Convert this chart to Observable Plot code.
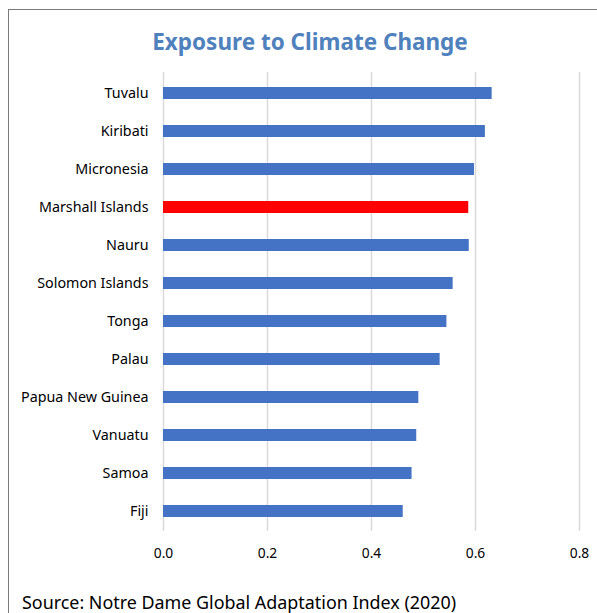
<!DOCTYPE html>
<html>
<head>
<meta charset="utf-8">
<script src="https://cdn.jsdelivr.net/npm/d3@7"></script>
<script src="https://cdn.jsdelivr.net/npm/@observablehq/plot@0.6"></script>
<style>
  html, body { margin: 0; padding: 0; background: #fff; overflow: hidden; }
  body { width: 597px; height: 613px; position: relative; font-family: "Noto Sans", "Open Sans", sans-serif; }
  #frame { position: absolute; left: 8px; top: 9px; width: 640px; height: 660px; border: 1px solid #7a7a7a; box-sizing: border-box; }
  #title { position: absolute; left: 0; width: 620px; top: 26px; text-align: center; font-size: 22.5px; font-weight: bold; color: #4F81BD; }
  #chart { position: absolute; left: 0; top: 60px; }
  #source { position: absolute; left: 22px; top: 590px; font-size: 17.9px; color: #000; white-space: nowrap; }
</style>
</head>
<body>
<div id="frame"></div>
<div id="title">Exposure to Climate Change</div>
<div id="chart"></div>
<div id="source">Source: Notre Dame Global Adaptation Index (2020)</div>
<script>
const countries = ["Tuvalu", "Kiribati", "Micronesia", "Marshall Islands", "Nauru", "Solomon Islands", "Tonga", "Palau", "Papua New Guinea", "Vanuatu", "Samoa", "Fiji"];
const values = [0.632, 0.619, 0.598, 0.587, 0.588, 0.557, 0.545, 0.532, 0.491, 0.487, 0.478, 0.461];
const highlighted = "Marshall Islands";
const xTicks = [0, 0.2, 0.4, 0.6, 0.8];

const data = countries.map((c, i) => ({country: c, value: values[i]}));

const plot = Plot.plot({
  width: 597,
  height: 520,
  marginLeft: 163,
  marginRight: 18,
  marginTop: 12,
  marginBottom: 49,
  style: {fontFamily: "'Noto Sans', 'Open Sans', sans-serif", fontSize: "14px", color: "#000", background: "transparent"},
  x: {domain: [0, 0.8], ticks: xTicks, tickFormat: d3.format(".1f"), label: null},
  y: {domain: countries, paddingInner: 0.686, paddingOuter: 0.343, label: null},
  marks: [
    Plot.ruleX(xTicks, {stroke: "#d9d9d9", strokeWidth: 1.5}),
    Plot.barX(data, {x: "value", y: "country", fill: d => d.country === highlighted ? "#FF0000" : "#4472C4"}),
    Plot.axisX({ticks: xTicks, tickFormat: d3.format(".1f"), tickSize: 0, tickPadding: 17, label: null, fontSize: 13.8}),
    Plot.axisY({tickSize: 0, tickPadding: 15, label: null, fontSize: 14.3})
  ]
});
document.getElementById("chart").appendChild(plot);
</script>
</body>
</html>
